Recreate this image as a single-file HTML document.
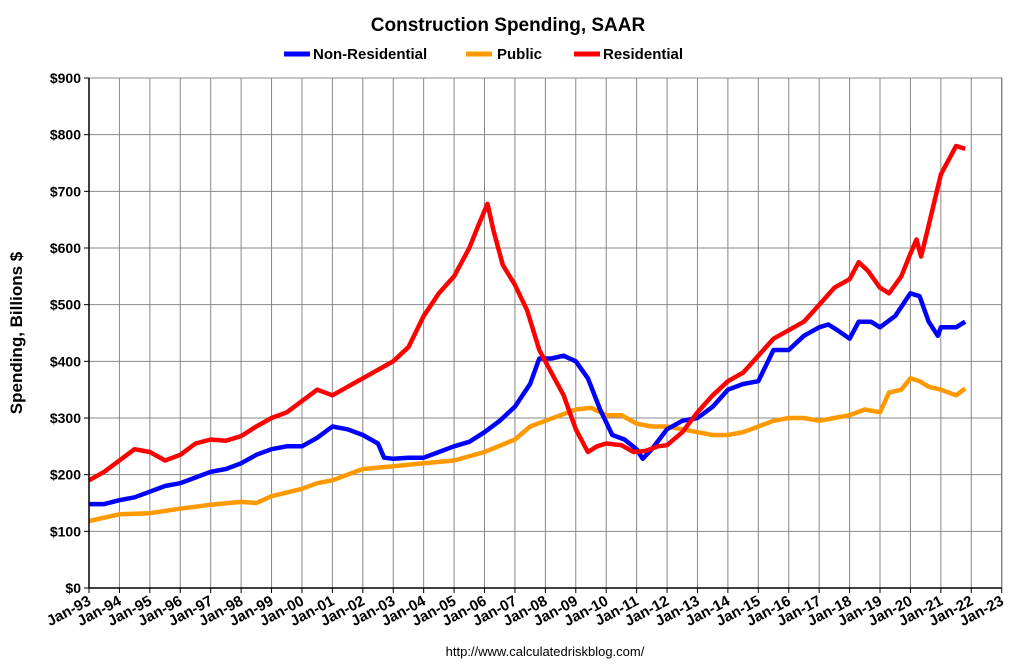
<!DOCTYPE html>
<html><head><meta charset="utf-8"><style>
body{margin:0;background:#fff;font-family:"Liberation Sans",Arial,sans-serif}
svg text{font-family:"Liberation Sans",Arial,sans-serif;font-weight:bold}
</style></head><body>
<svg id="chart" width="1016" height="664">
<text x="508" y="31" text-anchor="middle" font-size="19">Construction Spending, SAAR</text>
<g>
<line x1="284" y1="54" x2="310" y2="54" stroke="#0000ff" stroke-width="5"/><text x="313" y="59" font-size="15">Non-Residential</text>
<line x1="466" y1="54" x2="492" y2="54" stroke="#ff9900" stroke-width="5"/><text x="497" y="59" font-size="15">Public</text>
<line x1="574" y1="54" x2="600" y2="54" stroke="#ff0000" stroke-width="5"/><text x="603" y="59" font-size="15">Residential</text>
</g>
<text transform="translate(22,333) rotate(-90)" text-anchor="middle" font-size="17">Spending, Billions $</text>
<text x="545" y="656" text-anchor="middle" font-size="13" style="font-weight:normal">http://www.calculatedriskblog.com/</text>
<g id="grid"></g><g id="series"></g><g id="axes"></g>
</svg>
<script>
const yTicks=[0,100,200,300,400,500,600,700,800,900];
const xYears=[];for(let y=1993;y<=2023;y++)xYears.push(y);
const resT=[93.0,93.5,94.0,94.5,95.0,95.5,96.0,96.5,97.0,97.5,98.0,98.5,99.0,99.5,100.0,100.5,101.0,101.5,102.0,102.5,103.0,103.5,104.0,104.5,105.0,105.5,105.8,106.1,106.3,106.6,107.0,107.4,107.8,108.2,108.6,109.0,109.4,109.7,110.0,110.5,110.9,111.3,111.7,112.0,112.5,113.0,113.5,114.0,114.5,115.0,115.5,116.0,116.5,117.0,117.5,118.0,118.3,118.6,119.0,119.3,119.7,120.0,120.2,120.35,120.6,121.0,121.3,121.5,121.8];
const resV=[190,205,225,245,240,225,235,255,262,260,268,285,300,310,330,350,340,355,370,385,400,425,480,520,550,600,640,678,630,570,535,490,420,380,340,280,240,250,255,252,240,242,250,252,275,310,340,365,380,410,440,455,470,500,530,545,575,560,530,520,550,590,615,585,640,730,760,780,775];
const nonT=[93,93.5,94,94.5,95,95.5,96,96.5,97,97.5,98,98.5,99,99.5,100,100.5,101,101.5,102,102.5,102.7,103,103.5,104,104.5,105,105.5,106,106.5,107,107.5,107.8,108.2,108.6,109.0,109.4,109.8,110.2,110.6,111.0,111.2,111.5,112,112.5,113,113.5,114,114.5,115,115.5,116,116.5,117,117.3,117.6,118,118.3,118.7,119,119.5,120,120.3,120.6,120.9,121,121.5,121.8];
const nonV=[148,148,155,160,170,180,185,195,205,210,220,235,245,250,250,265,285,280,270,255,230,228,230,230,240,250,258,275,295,320,360,405,405,410,400,370,315,270,262,245,228,245,280,295,300,320,350,360,365,420,420,445,460,465,455,440,470,470,460,480,520,515,470,445,460,460,470];
const pubT=[93,94,95,96,97,98,98.5,99,100,100.5,101,102,103,104,105,106,107,107.5,108,108.5,109,109.5,110,110.5,111,111.5,112,112.5,113,113.5,114,114.5,115,115.5,116,116.5,117,117.5,118,118.5,119,119.3,119.7,120,120.3,120.6,121,121.5,121.8];
const pubV=[118,130,132,140,147,152,150,162,175,185,190,210,215,220,225,240,262,285,295,305,315,318,305,305,290,285,285,280,275,270,270,275,285,295,300,300,295,300,305,315,310,345,350,370,365,355,350,340,352];
const L=89,R=1001.7,T=78,B=588;
const xs=t=>L+(t-93)/30*(R-L);
const ys=v=>B-v/900*(B-T);
const NS="http://www.w3.org/2000/svg";
function mk(tag,attrs,parent){const e=document.createElementNS(NS,tag);for(const k in attrs)e.setAttribute(k,attrs[k]);document.getElementById(parent).appendChild(e);return e;}
const bg=mk('rect',{x:L,y:T,width:R-L,height:B-T,fill:'#fff',stroke:'#000','stroke-width':1},'grid');


yTicks.forEach(v=>{
 const g=mk('line',{x1:L,x2:R,y1:ys(v),y2:ys(v),stroke:'#888','stroke-width':1},'grid');
 
 
 mk('line',{x1:L-5,x2:L,y1:ys(v),y2:ys(v),stroke:'#000'},'axes');
 const t=mk('text',{x:L-8,y:ys(v)+5,'text-anchor':'end','font-size':14},'axes');t.textContent='$'+v;
 
 
});
xYears.forEach(y=>{
 const x=xs(y-1900);
 const g=mk('line',{x1:x,x2:x,y1:T,y2:B,stroke:'#888','stroke-width':1},'grid');
 
 
 mk('line',{x1:x,x2:x,y1:B,y2:B+5,stroke:'#000'},'axes');
 const t=mk('text',{x:x+3,y:B+16,'text-anchor':'end','font-size':15,transform:`rotate(-28 ${x+3} ${B+16})`},'axes');
 t.textContent='Jan-'+String(y%100).padStart(2,'0');
 
 
});
mk('line',{x1:L,x2:R,y1:B,y2:B,stroke:'#000','stroke-width':1.5},'axes');
mk('line',{x1:L,x2:L,y1:T,y2:B,stroke:'#000','stroke-width':1.5},'axes');
function line(ts,vs,color,name){
 const d=ts.map((t,i)=>(i?'L':'M')+xs(t).toFixed(1)+','+ys(vs[i]).toFixed(1)).join('');
 const p=mk('path',{d:d,fill:'none',stroke:color,'stroke-width':4.5,'stroke-linejoin':'round'},'series');
 
 
}
line(pubT,pubV,'#ff9900','public-line');
line(nonT,nonV,'#0000ff','non-residential-line');
line(resT,resV,'#ff0000','residential-line');
</script>
</body></html>
